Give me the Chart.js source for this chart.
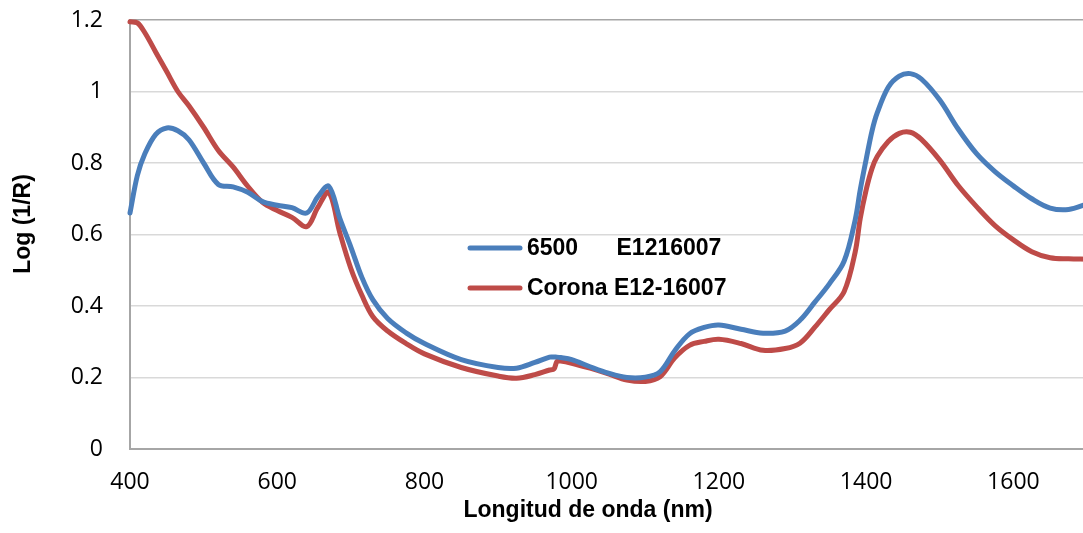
<!DOCTYPE html>
<html>
<head>
<meta charset="utf-8">
<script src="https://cdn.jsdelivr.net/npm/chart.js@4.4.1/dist/chart.umd.min.js"></script>
<style>
  html, body { margin: 0; padding: 0; background: #fff; overflow: hidden; }
  #wrap { position: relative; width: 1090px; height: 533px; }
</style>
</head>
<body>
<div id="wrap"><canvas id="c"></canvas></div>
<script>
// Wavelength grid (nm) shared by both spectra
const wavelengths = [
  400, 410, 420, 435, 450, 465, 480, 500, 520, 540, 560, 580, 600, 620, 640, 655,
  670, 685, 700, 715, 730, 750, 775, 800, 850, 900, 925, 950, 970, 976, 980, 985,
  1000, 1025, 1050, 1075, 1100, 1120, 1140, 1160, 1180, 1200, 1230, 1260, 1290, 1310,
  1330, 1350, 1370, 1385, 1392, 1400, 1408, 1415, 1430, 1445, 1460, 1475, 1500, 1525, 1550, 1575,
  1600, 1625, 1650, 1675, 1700
];

// Log(1/R) for sample 6500 E1216007
const spectrum6500 = [
  0.660, 0.765, 0.825, 0.880, 0.898, 0.890, 0.865, 0.800, 0.740, 0.733, 0.718, 0.692, 0.682, 0.675, 0.660, 0.705,
  0.735, 0.645, 0.565, 0.480, 0.417, 0.365, 0.325, 0.295, 0.250, 0.228, 0.226, 0.242, 0.257, 0.257, 0.257, 0.256,
  0.250, 0.230, 0.212, 0.200, 0.201, 0.216, 0.275, 0.322, 0.340, 0.347, 0.335, 0.324, 0.330, 0.360,
  0.410, 0.462, 0.525, 0.640, 0.725, 0.810, 0.890, 0.940, 1.012, 1.043, 1.050, 1.035, 0.976, 0.895, 0.826, 0.776,
  0.736, 0.700, 0.674, 0.670, 0.685
];

// Log(1/R) for sample Corona E12-16007
const spectrumCorona = [
  1.195, 1.192, 1.165, 1.110, 1.055, 1.000, 0.960, 0.900, 0.835, 0.789, 0.735, 0.690, 0.667, 0.648, 0.622, 0.675,
  0.718, 0.605, 0.505, 0.430, 0.370, 0.330, 0.295, 0.266, 0.228, 0.204, 0.198, 0.208, 0.221, 0.224, 0.245, 0.246,
  0.240, 0.226, 0.210, 0.193, 0.189, 0.202, 0.255, 0.290, 0.301, 0.307, 0.295, 0.276, 0.281, 0.296,
  0.340, 0.390, 0.440, 0.550, 0.645, 0.725, 0.785, 0.818, 0.860, 0.883, 0.886, 0.866, 0.808, 0.737, 0.678, 0.625,
  0.585, 0.552, 0.535, 0.532, 0.531
];

const seriesNames = ['6500      E1216007', 'Corona E12-16007'];
const seriesColors = ['#4a7ebb', '#be4b48'];
const xTitle = 'Longitud de onda (nm)';
const yTitle = 'Log (1/R)';

const toPoints = (vals) => vals.map((v, i) => ({ x: wavelengths[i], y: v }));

const TICK_FONT = { family: '"Open Sans", "Noto Sans", sans-serif', size: 23 };
const BOLD_FONT = 'bold 23px "Liberation Sans", Arial, sans-serif';
const AXIS_GREY = '#a6a6a6';
const GRID_GREY = '#d9d9d9';

// Legend drawn inside the plot area
const insideLegend = {
  id: 'insideLegend',
  afterDatasetsDraw(chart, args, opts) {
    const ctx = chart.ctx;
    ctx.save();
    chart.data.datasets.forEach((ds, i) => {
      const y = opts.y + i * opts.rowGap;
      ctx.strokeStyle = ds.borderColor;
      ctx.lineWidth = ds.borderWidth;
      ctx.lineCap = 'round';
      ctx.beginPath();
      ctx.moveTo(opts.x, y);
      ctx.lineTo(opts.x + opts.lineLen, y);
      ctx.stroke();
      ctx.fillStyle = '#000';
      ctx.font = BOLD_FONT;
      ctx.textAlign = 'left';
      ctx.textBaseline = 'middle';
      ctx.fillText(ds.label, opts.x + opts.lineLen + opts.gap, y + 1);
    });
    ctx.restore();
  }
};

// Axis titles
const axisTitles = {
  id: 'axisTitles',
  afterDraw(chart, args, opts) {
    const ctx = chart.ctx;
    ctx.save();
    ctx.fillStyle = '#000';
    ctx.font = BOLD_FONT;
    ctx.textAlign = 'center';
    ctx.textBaseline = 'alphabetic';
    ctx.fillText(xTitle, opts.xTitleX, opts.xTitleY);
    ctx.translate(opts.yTitleX, opts.yTitleY);
    ctx.rotate(-Math.PI / 2);
    ctx.fillText(yTitle, 0, 0);
    ctx.restore();
  }
};

new Chart(document.getElementById('c'), {
  type: 'line',
  data: {
    datasets: [
      { label: seriesNames[0], data: toPoints(spectrum6500), borderColor: seriesColors[0] },
      { label: seriesNames[1], data: toPoints(spectrumCorona), borderColor: seriesColors[1] }
    ].map(d => Object.assign(d, {
      borderWidth: 5,
      pointRadius: 0,
      fill: false,
      tension: 0.35,
      borderCapStyle: 'round',
      borderJoinStyle: 'round',
      clip: false
    }))
  },
  options: {
    responsive: true,
    maintainAspectRatio: false,
    animation: false,
    layout: { padding: { left: 0, right: 3, top: 20, bottom: 0 } },
    plugins: {
      legend: { display: false },
      tooltip: { enabled: false },
      insideLegend: { x: 470, y: 248, rowGap: 40, lineLen: 50, gap: 7 },
      axisTitles: { xTitleX: 588, xTitleY: 517, yTitleX: 30, yTitleY: 224 }
    },
    scales: {
      x: {
        type: 'linear',
        min: 400,
        max: 1700,
        ticks: {
          stepSize: 200,
          includeBounds: false,
          padding: 20,
          color: '#000',
          font: TICK_FONT,
          maxRotation: 0,
          callback: (v) => String(v)
        },
        grid: { display: false, drawTicks: false },
        border: { display: true, color: AXIS_GREY, width: 2 },
        afterFit(scale) {
          scale.height = 84;
          scale.paddingLeft = 0;
          scale.paddingRight = 0;
        }
      },
      y: {
        min: 0,
        max: 1.2,
        ticks: {
          stepSize: 0.2,
          padding: 27,
          color: '#000',
          font: TICK_FONT,
          callback: (v) => String(Math.round(v * 10) / 10)
        },
        grid: {
          drawTicks: false,
          lineWidth: 1.5,
          color: (c) => (c.tick && Math.abs(c.tick.value - 1.2) < 1e-6) ? AXIS_GREY : GRID_GREY
        },
        border: { display: true, color: AXIS_GREY, width: 2 },
        afterFit(scale) {
          scale.width = 130;
          scale.paddingTop = 0;
          scale.paddingBottom = 0;
        }
      }
    }
  },
  plugins: [insideLegend, axisTitles]
});
</script>
</body>
</html>
